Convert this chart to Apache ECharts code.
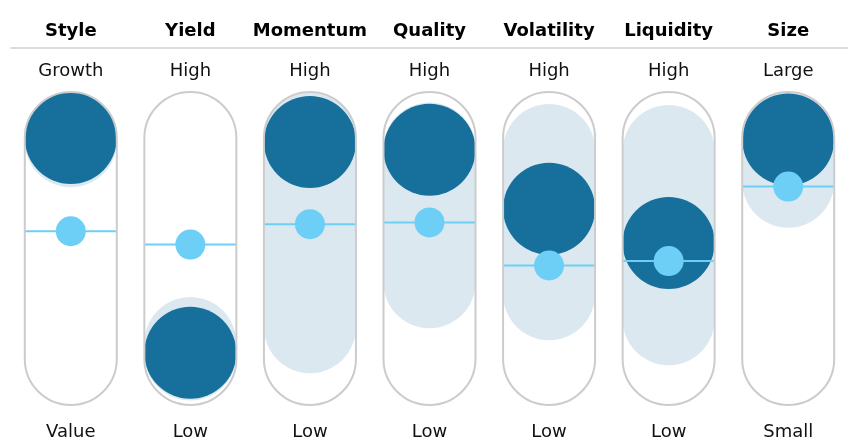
<!DOCTYPE html>
<html>
<head>
<meta charset="utf-8">
<script src="https://cdn.jsdelivr.net/npm/echarts@6/dist/echarts.min.js"></script>
<style>
html,body{margin:0;padding:0;background:#fff;}
#chart{width:848px;height:441px;}
</style>
</head>
<body>
<div id="chart"></div>
<script>
const categories = ['Style', 'Yield', 'Momentum', 'Quality', 'Volatility', 'Liquidity', 'Size'];
const highLabels = ['Growth', 'High', 'High', 'High', 'High', 'High', 'Large'];
const lowLabels = ['Value', 'Low', 'Low', 'Low', 'Low', 'Low', 'Small'];
const fundValues = [100, 2.8, 98.2, 94.7, 68, 52.5, 99.3];
const rangeLow = [98.5, 2, 14.4, 34.7, 29.3, 18, 80.2];
const rangeHigh = [100, 7.2, 100, 95.3, 94.6, 94.1, 100];
const avgValues = [57.8, 51.8, 61, 61.8, 42.3, 44.3, 78];

const FONT = 'DejaVu Sans, Verdana, sans-serif';
const seriesData = categories.map((c, i) => [i, fundValues[i], rangeLow[i], rangeHigh[i], avgValues[i]]);

function renderItem(params, api) {
  const i = api.value(0);
  const p = api.coord([i, api.value(1)]);
  const cx = p[0], yFund = p[1];
  const yLo = api.coord([i, api.value(2)])[1];
  const yHi = api.coord([i, api.value(3)])[1];
  const yAvg = api.coord([i, api.value(4)])[1];
  const yTop = api.coord([i, 100])[1];
  const yBot = api.coord([i, 0])[1];
  const R = 46;
  return {
    type: 'group',
    children: [
      { type: 'rect', shape: { x: cx - R, y: yTop - R, width: 2 * R, height: yBot - yTop + 2 * R, r: R },
        style: { fill: '#ffffff' } },
      { type: 'rect', shape: { x: cx - R, y: yHi - R, width: 2 * R, height: yLo - yHi + 2 * R, r: R },
        style: { fill: '#dce8f0' } },
      { type: 'circle', shape: { cx: cx, cy: yFund, r: R }, style: { fill: '#17709c' } },
      { type: 'line', shape: { x1: cx - R, y1: yAvg, x2: cx + R, y2: yAvg },
        style: { stroke: '#6dcff6', lineWidth: 2 } },
      { type: 'circle', shape: { cx: cx, cy: yAvg, r: 15 }, style: { fill: '#6dcff6' } },
      { type: 'rect', shape: { x: cx - R, y: yTop - R, width: 2 * R, height: yBot - yTop + 2 * R, r: R },
        style: { fill: 'none', stroke: '#cccccc', lineWidth: 2 } }
    ]
  };
}

const chart = echarts.init(document.getElementById('chart'), null, { renderer: 'canvas' });
chart.setOption({
  animation: false,
  backgroundColor: '#ffffff',
  grid: [
    { left: 11, top: 138, width: 839, height: 222 },
    { left: 11, top: 47, width: 839, height: 1 }
  ],
  xAxis: [
    { type: 'category', gridIndex: 0, data: lowLabels, position: 'bottom',
      axisLine: { show: false }, axisTick: { show: false }, splitLine: { show: false },
      axisLabel: { interval: 0, margin: 73, verticalAlign: 'middle', color: '#111', fontSize: 18, fontFamily: FONT } },
    { type: 'category', gridIndex: 1, data: categories, position: 'top',
      axisLine: { show: true, lineStyle: { color: '#dddddd', width: 2 } }, axisTick: { show: false },
      axisLabel: { interval: 0, margin: 16, verticalAlign: 'middle', color: '#000', fontSize: 18, fontWeight: 'bold', fontFamily: FONT } },
    { type: 'category', gridIndex: 1, data: highLabels, position: 'bottom',
      axisLine: { show: false }, axisTick: { show: false },
      axisLabel: { interval: 0, margin: 23, verticalAlign: 'middle', color: '#111', fontSize: 18, fontFamily: FONT } }
  ],
  yAxis: [
    { type: 'value', gridIndex: 0, min: 0, max: 100, show: false },
    { type: 'value', gridIndex: 1, show: false }
  ],
  series: [{
    type: 'custom',
    xAxisIndex: 0, yAxisIndex: 0,
    renderItem: renderItem,
    clip: false,
    data: seriesData
  }]
});
</script>
</body>
</html>
